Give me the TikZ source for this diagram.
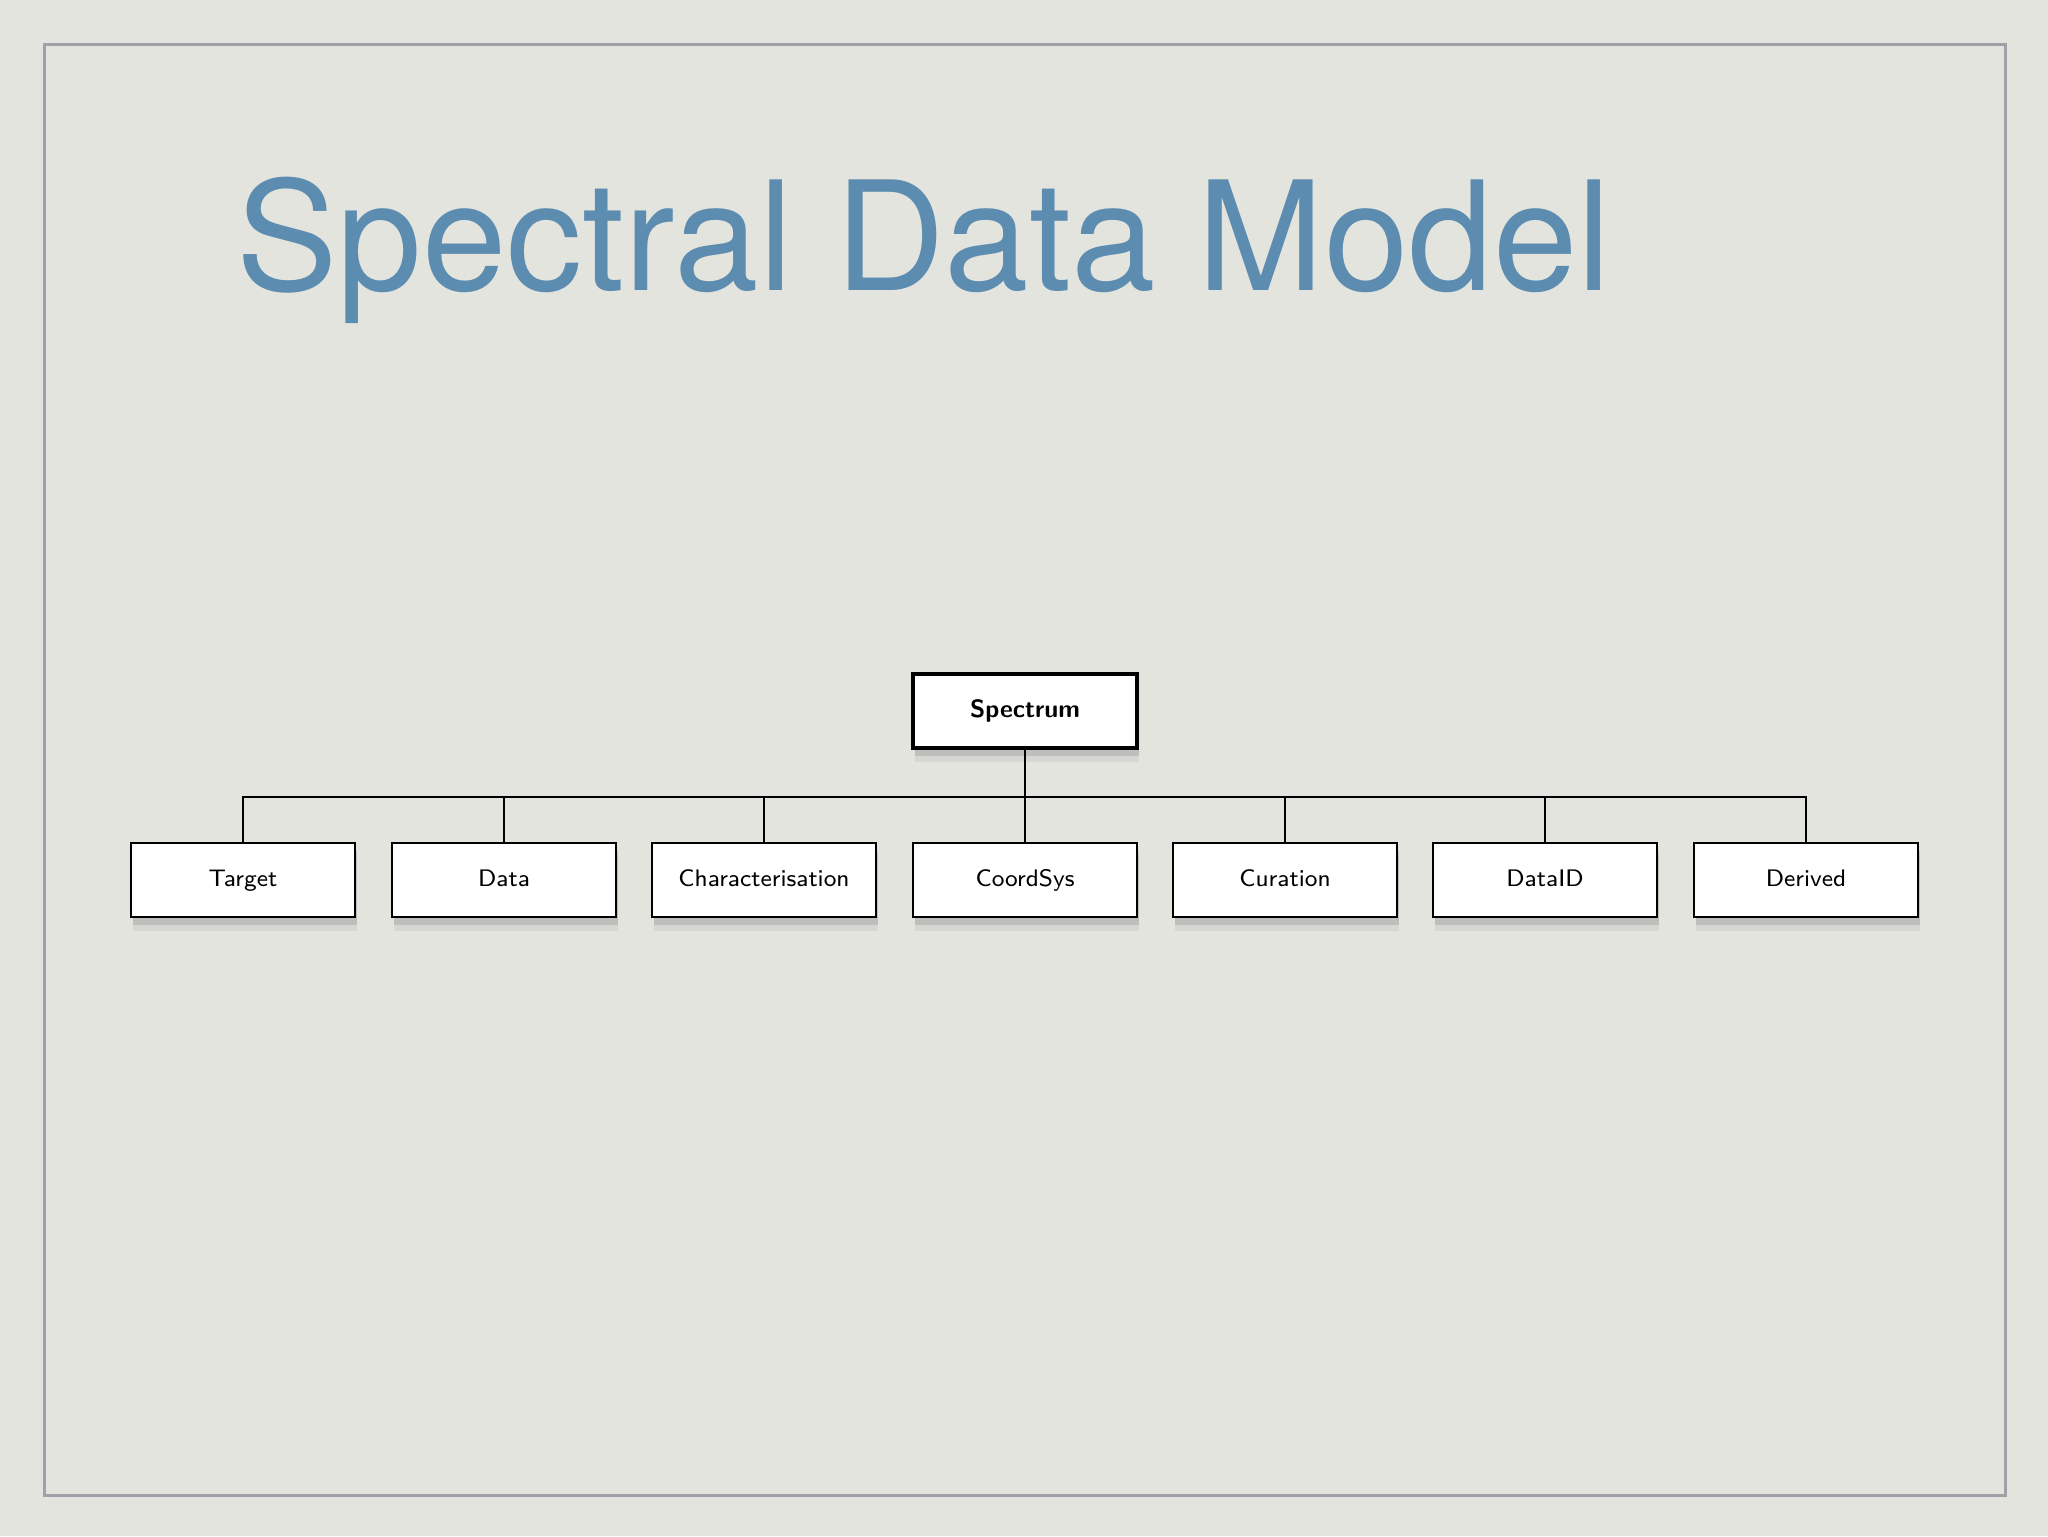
\documentclass[tikz,border=0pt]{standalone}
\usepackage{fontspec}
\usepackage{tikz}
\usetikzlibrary{shadows}
\newfontfamily\titlefont{TeX Gyre Heros}
\definecolor{paper}{RGB}{227,228,222}
\definecolor{framegray}{RGB}{160,160,168}
\definecolor{titleblue}{RGB}{92,140,176}
\tikzset{
  classbox/.style={draw=black, fill=white, line width=0.6pt, minimum width=22.4mm,
    minimum height=7.4mm, inner sep=0pt, text height=1.7mm, text depth=0.5mm,
    font=\sffamily\fontsize{6.8}{8}\selectfont,
    drop shadow={shadow xshift=0.2mm, shadow yshift=-1.4mm, opacity=0.12},
    drop shadow={shadow xshift=0.2mm, shadow yshift=-0.8mm, opacity=0.28}},
  rootbox/.style={classbox, line width=1.3pt, font=\sffamily\bfseries\fontsize{7.1}{8}\selectfont},
  link/.style={draw=black, line width=0.45pt}
}

\begin{document}
\begin{tikzpicture}[x=0.1mm, y=-0.1mm]
                        \fill[paper] (0,0) rectangle (2048,1536);
                        \draw[framegray, line width=0.3mm] (44,44) rectangle (2005,1495);

                        \node[anchor=base west, inner sep=0pt, text=titleblue,
                          font=\titlefont\fontsize{43.2}{50}\selectfont] (title) at (236,290) {Spectral Data Model};

                        \node[rootbox] (spectrum) at (1025,711) {Spectrum};
                        \coordinate (bus) at (1025,797);

                        \node[classbox] (target) at (243,880) {Target};
                        \node[classbox] (data) at (504,880) {Data};
                        \node[classbox] (charac) at (764,880) {Characterisation};
                        \node[classbox] (coordsys) at (1025,880) {CoordSys};
                        \node[classbox] (curation) at (1285,880) {Curation};
                        \node[classbox] (dataid) at (1545,880) {DataID};
                        \node[classbox] (derived) at (1806,880) {Derived};

                        \draw[link] (spectrum.south) -- (bus);
                        \draw[link] (bus) -| (target.north);
                        \draw[link] (bus) -| (data.north);
                        \draw[link] (bus) -| (charac.north);
                        \draw[link] (bus) -- (coordsys.north);
                        \draw[link] (bus) -| (curation.north);
                        \draw[link] (bus) -| (dataid.north);
                        \draw[link] (bus) -| (derived.north);
                    \end{tikzpicture}
\end{document}
